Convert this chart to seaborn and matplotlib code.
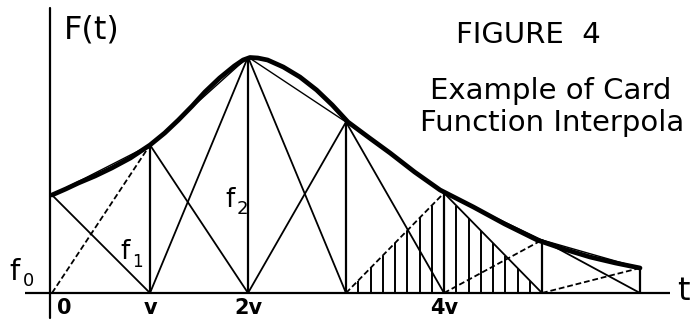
import numpy as np
import pandas as pd
import matplotlib
matplotlib.use("Agg")
import matplotlib.pyplot as plt
import seaborn as sns

# Sample instants (in units of the sampling interval v) and sampled values f_k
sample_t = [0, 1, 2, 3, 4, 5, 6]
sample_f = [0.98, 1.48, 2.36, 1.71, 1.00, 0.53, 0.25]

# The continuous function F(t) traced through the samples
curve_t = [0.00, 0.14, 0.27, 0.44, 0.61, 0.80, 1.00, 1.15, 1.29, 1.43, 1.56,
           1.71, 1.86, 1.95, 2.02, 2.10, 2.20, 2.36, 2.53, 2.70, 2.86, 3.02,
           3.24, 3.45, 3.70, 3.96, 4.30, 4.62, 4.95, 5.22, 5.49, 5.75, 6.00]
curve_y = [0.98, 1.04, 1.10, 1.17, 1.25, 1.35, 1.48, 1.60, 1.73, 1.87, 2.01,
           2.15, 2.27, 2.33, 2.355, 2.35, 2.33, 2.26, 2.16, 2.03, 1.88, 1.71,
           1.55, 1.40, 1.21, 1.03, 0.86, 0.69, 0.53, 0.44, 0.36, 0.30, 0.25]

# Hatching under the cardinal (triangle) function of sample 4
hatch_steps = 8

tick_pos = [0, 1, 2, 4]
tick_text = ["0", "v", "2v", "4v"]

sns.set_style("white")
plt.rcParams["font.family"] = ["DejaVu Sans"]

W, H = 693, 329
fig = plt.figure(figsize=(W / 100, H / 100), dpi=100)
ax = fig.add_axes([0, 0, 1, 1])
ax.set_xlim(-52 / 98, (W - 52) / 98)
ax.set_ylim(-(H - 293) / 100, 293 / 100)
ax.axis("off")

ink = "black"

# Coordinate axes
ax.plot([-0.28, 6.31], [0, 0], color=ink, lw=1.6, solid_capstyle="butt")
ax.plot([-0.02, -0.02], [-0.25, 2.85], color=ink, lw=1.6)

# Triangle (cardinal) functions of each sample
dashed_rising = {1, 4, 5, 6}
n = len(sample_t)
for k in range(n):
    tk, fk = sample_t[k], sample_f[k]
    if k > 0:
        style = (0, (3.2, 1.6)) if k in dashed_rising else "-"
        ax.plot([tk - 1, tk], [0, fk], color=ink, lw=1.3, linestyle=style)
    if k < n - 1:
        ax.plot([tk, tk + 1], [fk, 0], color=ink, lw=1.3)
    if k > 0:
        ax.vlines(tk, 0, fk, color=ink, lw=1.6)

# Linear interpolation between samples
ax.plot(sample_t, sample_f, color=ink, lw=1.0)

# Hatched area under the fourth triangle
t4, f4 = sample_t[4], sample_f[4]
for j in range(1, 2 * hatch_steps):
    tt = t4 - 1 + j / hatch_steps
    if abs(tt - t4) < 1e-9:
        continue
    ax.vlines(tt, 0, f4 * (1 - abs(tt - t4)), color=ink, lw=1.4)

# Smooth function
curve = pd.DataFrame({"t": curve_t, "F": curve_y})
sns.lineplot(data=curve, x="t", y="F", ax=ax, color=ink, lw=3.4,
             sort=False, estimator=None)
ax.lines[-1].set_solid_joinstyle("round")
ax.lines[-1].set_solid_capstyle("round")


def fx(px):
    return px / W


def fy(py):
    return 1 - py / H


# Axis tick labels
for p, s in zip(tick_pos, tick_text):
    ax.text(p + (0.12 if p == 0 else 0), -0.155, s, ha="center", va="center",
            fontsize=15, fontweight="bold", color=ink)

fig.text(fx(683), fy(292), "t", ha="center", va="center", fontsize=23, color=ink)
fig.text(fx(64), fy(30), "F(t)", ha="left", va="center", fontsize=23, color=ink)

# Sample value labels
fig.text(fx(9), fy(272), "f", ha="left", va="center", fontsize=21, color=ink)
fig.text(fx(23), fy(281), "0", ha="left", va="center", fontsize=13, color=ink)
fig.text(fx(120), fy(252), "f", ha="left", va="center", fontsize=19, color=ink)
fig.text(fx(132), fy(262), "1", ha="left", va="center", fontsize=12, color=ink)
fig.text(fx(225), fy(200), "f", ha="left", va="center", fontsize=19, color=ink)
fig.text(fx(237), fy(209), "2", ha="left", va="center", fontsize=13, color=ink)

# Caption, as far as it fits on the sheet
fig.text(fx(456), fy(35), "FIGURE  4", ha="left", va="center", fontsize=21, color=ink)
fig.text(fx(430), fy(91), "Example of Card", ha="left", va="center", fontsize=21, color=ink)
fig.text(fx(420), fy(123), "Function Interpola", ha="left", va="center", fontsize=21, color=ink)

fig.savefig("out.png", dpi=100)
